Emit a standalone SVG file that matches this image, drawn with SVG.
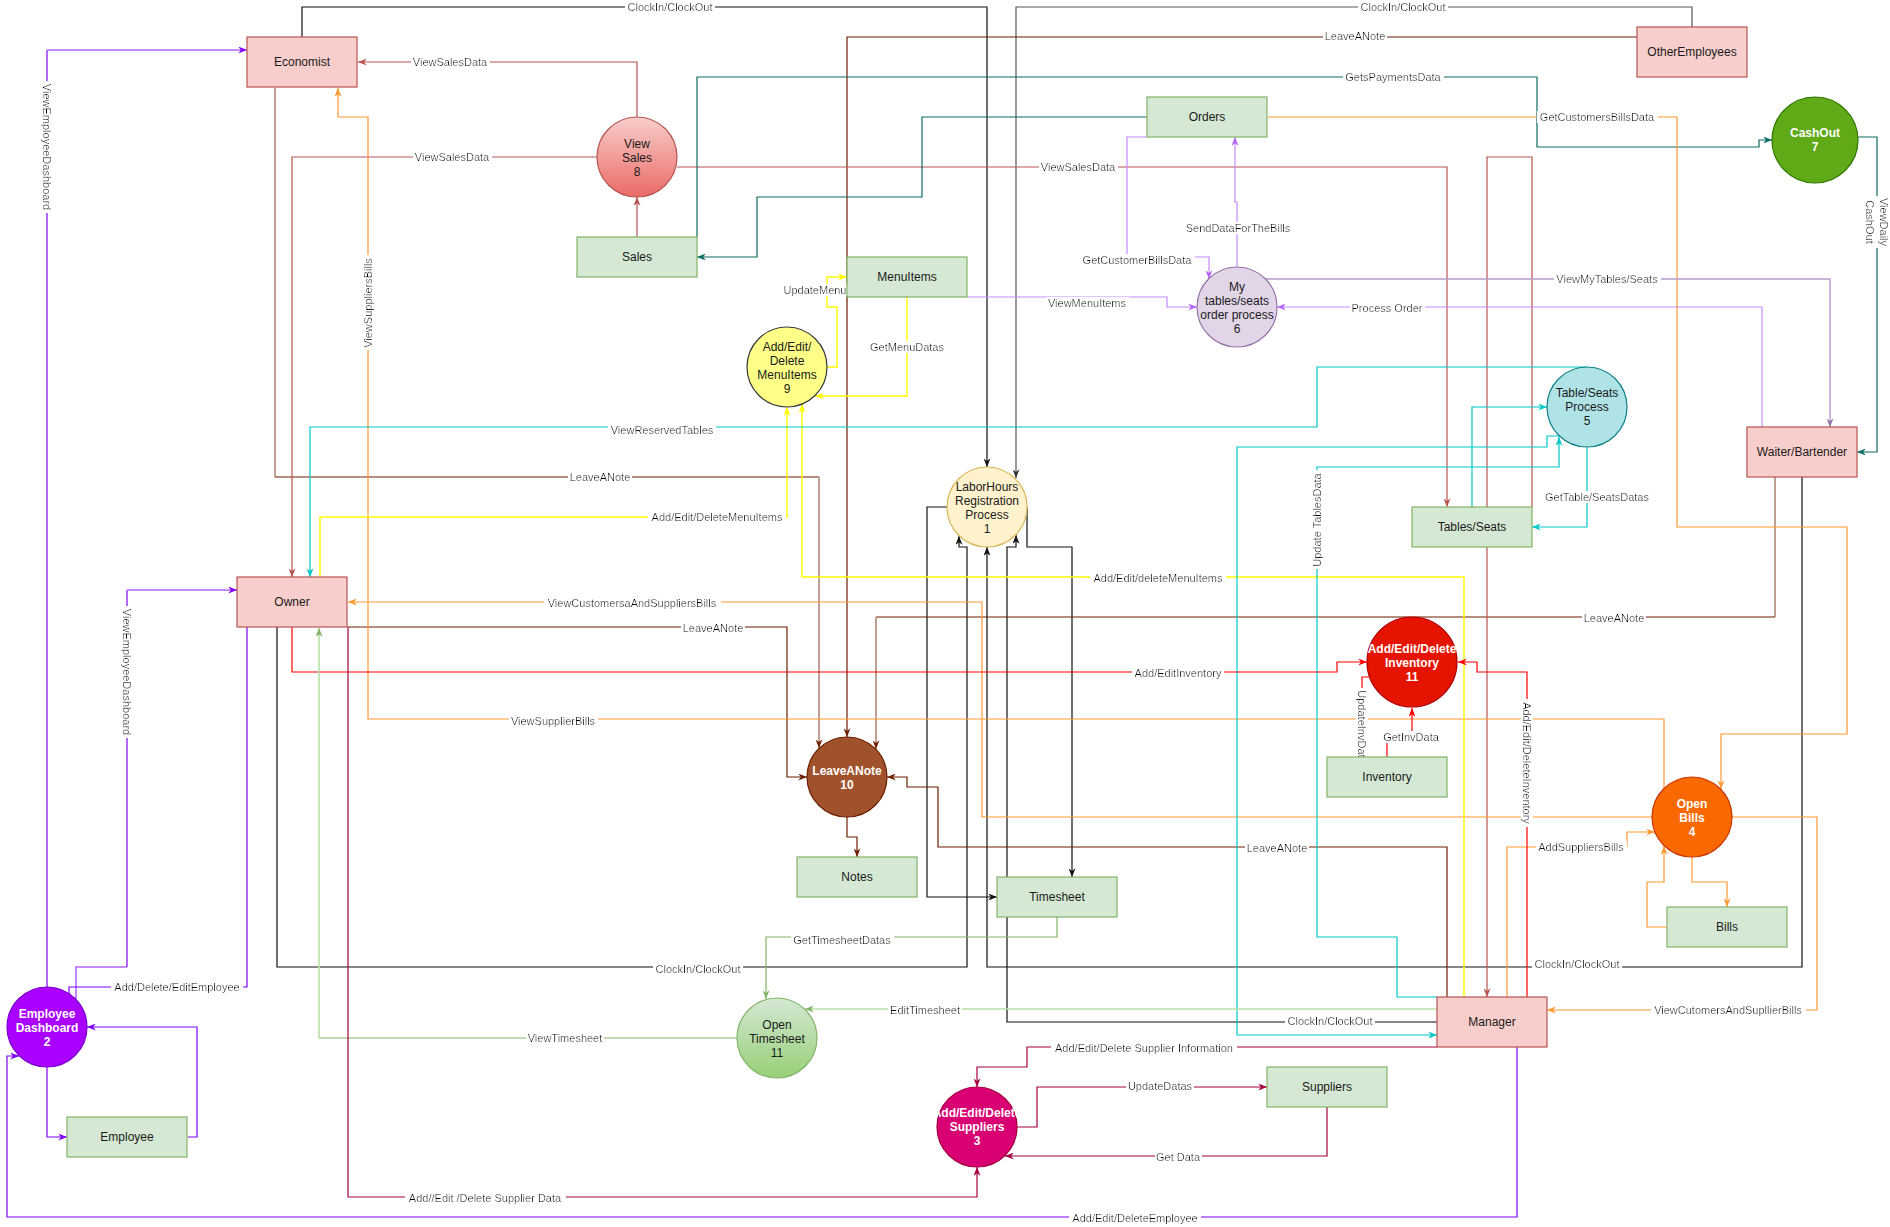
<svg xmlns="http://www.w3.org/2000/svg" width="1890" height="1227" viewBox="0 0 1890 1227">
<style>
.c{fill:none;stroke-width:1.2}
.k{stroke:#111}.g{stroke:#555}.br{stroke:#6D1F00}.bl{stroke:#b08a78;stroke-width:1.6}.rv{stroke:#b85450}.tl{stroke:#0e6b63}.or{stroke:#FF9933}.ye{stroke:#FFFF00;stroke-width:1.4}.pu{stroke:#7F00FF}.pl{stroke:#B266FF;stroke-width:1.6}.lp{stroke:#C58CFF}.lv{stroke:#B79BCB;stroke-width:1.4}.cy{stroke:#00C8C8}.re{stroke:#FF0000}.gr{stroke:#82b366}.gl{stroke:#B9E0A5;stroke-width:1.6}.cr{stroke:#A50040}
.lbl{font-family:"Liberation Sans",Arial,sans-serif;font-size:11px;fill:#000;text-anchor:middle;dominant-baseline:central;filter:url(#lb)}
.nt{font-family:"Liberation Sans",Arial,sans-serif;font-size:12px;fill:#1a1a1a;text-anchor:middle}
.wt{fill:#fff;font-weight:bold}
.ent{fill:#f8cecc;stroke:#b85450;stroke-width:1.2}
.ds{fill:#d5e8d4;stroke:#82b366;stroke-width:1.2}
</style>
<defs>
<filter id="lb" x="-0.02" y="0" width="1.04" height="1"><feFlood flood-color="#ffffff" result="f"/><feMerge><feMergeNode in="f"/><feMergeNode in="SourceGraphic"/></feMerge></filter>
<linearGradient id="gRed" x1="0" y1="0" x2="0" y2="1"><stop offset="0" stop-color="#f8cecc"/><stop offset="1" stop-color="#ea6b66"/></linearGradient>
<linearGradient id="gGreen" x1="0" y1="0" x2="0" y2="1"><stop offset="0" stop-color="#d5e8d4"/><stop offset="1" stop-color="#97d077"/></linearGradient>
<marker id="a-k" viewBox="0 0 10 8" refX="10" refY="4" markerWidth="9" markerHeight="7" markerUnits="userSpaceOnUse" orient="auto"><path d="M0,0L10,4L0,8L3,4z" fill="#111"/></marker>
<marker id="a-g" viewBox="0 0 10 8" refX="10" refY="4" markerWidth="9" markerHeight="7" markerUnits="userSpaceOnUse" orient="auto"><path d="M0,0L10,4L0,8L3,4z" fill="#333"/></marker>
<marker id="a-br" viewBox="0 0 10 8" refX="10" refY="4" markerWidth="9" markerHeight="7" markerUnits="userSpaceOnUse" orient="auto"><path d="M0,0L10,4L0,8L3,4z" fill="#6D1F00"/></marker>
<marker id="a-rv" viewBox="0 0 10 8" refX="10" refY="4" markerWidth="9" markerHeight="7" markerUnits="userSpaceOnUse" orient="auto"><path d="M0,0L10,4L0,8L3,4z" fill="#b85450"/></marker>
<marker id="a-tl" viewBox="0 0 10 8" refX="10" refY="4" markerWidth="9" markerHeight="7" markerUnits="userSpaceOnUse" orient="auto"><path d="M0,0L10,4L0,8L3,4z" fill="#0e6b63"/></marker>
<marker id="a-or" viewBox="0 0 10 8" refX="10" refY="4" markerWidth="9" markerHeight="7" markerUnits="userSpaceOnUse" orient="auto"><path d="M0,0L10,4L0,8L3,4z" fill="#FF9933"/></marker>
<marker id="a-ye" viewBox="0 0 10 8" refX="10" refY="4" markerWidth="9" markerHeight="7" markerUnits="userSpaceOnUse" orient="auto"><path d="M0,0L10,4L0,8L3,4z" fill="#FFFF00"/></marker>
<marker id="a-pu" viewBox="0 0 10 8" refX="10" refY="4" markerWidth="9" markerHeight="7" markerUnits="userSpaceOnUse" orient="auto"><path d="M0,0L10,4L0,8L3,4z" fill="#7F00FF"/></marker>
<marker id="a-lp" viewBox="0 0 10 8" refX="10" refY="4" markerWidth="9" markerHeight="7" markerUnits="userSpaceOnUse" orient="auto"><path d="M0,0L10,4L0,8L3,4z" fill="#B266FF"/></marker>
<marker id="a-lv" viewBox="0 0 10 8" refX="10" refY="4" markerWidth="9" markerHeight="7" markerUnits="userSpaceOnUse" orient="auto"><path d="M0,0L10,4L0,8L3,4z" fill="#9673a6"/></marker>
<marker id="a-cy" viewBox="0 0 10 8" refX="10" refY="4" markerWidth="9" markerHeight="7" markerUnits="userSpaceOnUse" orient="auto"><path d="M0,0L10,4L0,8L3,4z" fill="#00C8C8"/></marker>
<marker id="a-re" viewBox="0 0 10 8" refX="10" refY="4" markerWidth="9" markerHeight="7" markerUnits="userSpaceOnUse" orient="auto"><path d="M0,0L10,4L0,8L3,4z" fill="#FF0000"/></marker>
<marker id="a-gr" viewBox="0 0 10 8" refX="10" refY="4" markerWidth="9" markerHeight="7" markerUnits="userSpaceOnUse" orient="auto"><path d="M0,0L10,4L0,8L3,4z" fill="#82b366"/></marker>
<marker id="a-cr" viewBox="0 0 10 8" refX="10" refY="4" markerWidth="9" markerHeight="7" markerUnits="userSpaceOnUse" orient="auto"><path d="M0,0L10,4L0,8L3,4z" fill="#A50040"/></marker>
</defs>
<rect width="1890" height="1227" fill="#ffffff"/>
<g id="connectors">
<path class="c k" d="M302,37V7H987V467" marker-end="url(#a-k)"/>
<path class="c g" d="M1692,27V7H1016V478" marker-end="url(#a-g)"/>
<path class="c k" d="M277,627V967H967V547H959V536" marker-end="url(#a-k)"/>
<path class="c k" d="M1802,477V967H987V547" marker-end="url(#a-k)"/>
<path class="c k" d="M1437,1022H1007V547H1016V535" marker-end="url(#a-k)"/>
<path class="c k" d="M947,507H927V897H997" marker-end="url(#a-k)"/>
<path class="c k" d="M1027,507V547H1072V877" marker-end="url(#a-k)"/>
<path class="c br" d="M1637,37H847V737" marker-end="url(#a-br)"/>
<path class="c bl" d="M275,88V477"/>
<path class="c br" d="M275,477H819"/>
<path class="c bl" d="M819,477V748" marker-end="url(#a-br)"/>
<path class="c br" d="M348,627H787V777H807" marker-end="url(#a-br)"/>
<path class="c bl" d="M1775,477V617"/>
<path class="c br" d="M1775,617H876"/>
<path class="c bl" d="M876,617V749" marker-end="url(#a-br)"/>
<path class="c br" d="M1447,997V847H938V787H907V777H887" marker-end="url(#a-br)"/>
<path class="c br" d="M847,817V837H857V857" marker-end="url(#a-br)"/>
<path class="c rv" d="M637,237V197" marker-end="url(#a-rv)"/>
<path class="c rv" d="M637,117V62H358" marker-end="url(#a-rv)"/>
<path class="c rv" d="M597,157H292V577" marker-end="url(#a-rv)"/>
<path class="c rv" d="M677,167H1447V507" marker-end="url(#a-rv)"/>
<path class="c rv" d="M1532,507V157H1487V997" marker-end="url(#a-rv)"/>
<path class="c tl" d="M697,237V77H1537V147H1759V140H1772" marker-end="url(#a-tl)"/>
<path class="c tl" d="M1147,117H922V197H757V257H697" marker-end="url(#a-tl)"/>
<path class="c tl" d="M1857,137H1877V452H1857" marker-end="url(#a-tl)"/>
<path class="c or" d="M1664,788V719H368V117H338V88" marker-end="url(#a-or)"/>
<path class="c or" d="M1652,817H982V602H348" marker-end="url(#a-or)"/>
<path class="c or" d="M1268,117H1677V527H1847V734H1721V789" marker-end="url(#a-or)"/>
<path class="c or" d="M1692,857V882H1727V907" marker-end="url(#a-or)"/>
<path class="c or" d="M1667,927H1647V882H1664V846" marker-end="url(#a-or)"/>
<path class="c or" d="M1507,997V847H1627V832H1655" marker-end="url(#a-or)"/>
<path class="c or" d="M1732,817H1817V1010H1547" marker-end="url(#a-or)"/>
<path class="c ye" d="M320,577V517H787V407" marker-end="url(#a-ye)"/>
<path class="c ye" d="M1464,997V577H802V404" marker-end="url(#a-ye)"/>
<path class="c ye" d="M827,367H837V307H827V277H847" marker-end="url(#a-ye)"/>
<path class="c ye" d="M907,297V396H815" marker-end="url(#a-ye)"/>
<path class="c pu" d="M47,987V50"/>
<path class="c pl" d="M47,50H247" marker-end="url(#a-pu)"/>
<path class="c pl" d="M76,999V967H127"/>
<path class="c pu" d="M127,967V590"/>
<path class="c pl" d="M127,590H237" marker-end="url(#a-pu)"/>
<path class="c pu" d="M247,627V987H69V994"/>
<path class="c pu" d="M47,1067V1137H67" marker-end="url(#a-pu)"/>
<path class="c pu" d="M188,1137H197V1027H87" marker-end="url(#a-pu)"/>
<path class="c pu" d="M1517,1047V1217H7V1056H19" marker-end="url(#a-pu)"/>
<path class="c lp" d="M967,297H1167V307H1197" marker-end="url(#a-lp)"/>
<path class="c lp" d="M1237,267V202H1235V137" marker-end="url(#a-lp)"/>
<path class="c lp" d="M1147,137H1127V257H1209V279" marker-end="url(#a-lp)"/>
<path class="c lp" d="M1762,427V307H1277" marker-end="url(#a-lp)"/>
<path class="c lv" d="M1265,279H1830V427" marker-end="url(#a-lv)"/>
<path class="c cy" d="M1587,367H1317V427H310V577" marker-end="url(#a-cy)"/>
<path class="c cy" d="M1472,507V407H1547" marker-end="url(#a-cy)"/>
<path class="c cy" d="M1587,447V527H1532" marker-end="url(#a-cy)"/>
<path class="c cy" d="M1437,997H1397V937H1317V467H1559V437" marker-end="url(#a-cy)"/>
<path class="c cy" d="M1559,436H1547V447H1237V1035H1437" marker-end="url(#a-cy)"/>
<path class="c re" d="M292,627V672H1337V662H1367" marker-end="url(#a-re)"/>
<path class="c re" d="M1527,997V672H1477V662H1458" marker-end="url(#a-re)"/>
<path class="c re" d="M1370,677H1362V757"/>
<path class="c re" d="M1387,757V737H1412V708" marker-end="url(#a-re)"/>
<path class="c gr" d="M737,1038H319"/>
<path class="c gl" d="M319,1038V628" marker-end="url(#a-gr)"/>
<path class="c gr" d="M1057,917V937H766V999" marker-end="url(#a-gr)"/>
<path class="c gl" d="M1437,1009H805" marker-end="url(#a-gr)"/>
<path class="c cr" d="M348,627V1197H977V1167" marker-end="url(#a-cr)"/>
<path class="c cr" d="M1437,1047H1027V1067H977V1087" marker-end="url(#a-cr)"/>
<path class="c cr" d="M1017,1127H1037V1087H1267" marker-end="url(#a-cr)"/>
<path class="c cr" d="M1327,1107V1156H1005" marker-end="url(#a-cr)"/>
<g id="connector-labels">
<text class="lbl" x="670" y="7">ClockIn/ClockOut</text>
<text class="lbl" x="1403" y="7">ClockIn/ClockOut</text>
<text class="lbl" x="1355" y="36">LeaveANote</text>
<text class="lbl" x="1393" y="77">GetsPaymentsData</text>
<text class="lbl" x="1597" y="117">GetCustomersBillsData</text>
<text class="lbl" x="450" y="62">ViewSalesData</text>
<text class="lbl" x="452" y="157">ViewSalesData</text>
<text class="lbl" x="1078" y="167">ViewSalesData</text>
<text class="lbl" x="1238" y="228">SendDataForTheBills</text>
<text class="lbl" x="1137" y="260">GetCustomerBillsData</text>
<text class="lbl" x="815" y="290">UpdateMenu</text>
<text class="lbl" x="1087" y="303">ViewMenuItems</text>
<text class="lbl" x="1607" y="279">ViewMyTables/Seats</text>
<text class="lbl" x="1387" y="308">Process Order</text>
<text class="lbl" x="907" y="347">GetMenuDatas</text>
<text class="lbl" x="662" y="430">ViewReservedTables</text>
<text class="lbl" x="600" y="477">LeaveANote</text>
<text class="lbl" x="1597" y="497">GetTable/SeatsDatas</text>
<text class="lbl" x="717" y="517">Add/Edit/DeleteMenuItems</text>
<text class="lbl" transform="translate(1317,520) rotate(-90)" x="0" y="0">Update TablesData</text>
<text class="lbl" x="1158" y="578">Add/Edit/deleteMenuItems</text>
<text class="lbl" x="632" y="603">ViewCustomersaAndSuppliersBills</text>
<text class="lbl" x="1614" y="618">LeaveANote</text>
<text class="lbl" x="713" y="628">LeaveANote</text>
<text class="lbl" x="1178" y="673">Add/EditInventory</text>
<text class="lbl" transform="translate(1362,727) rotate(90)" x="0" y="0">UpdateInvData</text>
<text class="lbl" x="1411" y="737">GetInvData</text>
<text class="lbl" x="553" y="721">ViewSupplierBills</text>
<text class="lbl" transform="translate(1527,763) rotate(90)" x="0" y="0">Add/Edit/DeleteInventory</text>
<text class="lbl" x="1581" y="847">AddSuppliersBills</text>
<text class="lbl" x="1277" y="848">LeaveANote</text>
<text class="lbl" x="842" y="940">GetTimesheetDatas</text>
<text class="lbl" x="698" y="969">ClockIn/ClockOut</text>
<text class="lbl" x="1577" y="964">ClockIn/ClockOut</text>
<text class="lbl" x="1728" y="1010">ViewCutomersAndSupllierBills</text>
<text class="lbl" x="925" y="1010">EditTimesheet</text>
<text class="lbl" x="1330" y="1021">ClockIn/ClockOut</text>
<text class="lbl" x="177" y="987">Add/Delete/EditEmployee</text>
<text class="lbl" x="565" y="1038">ViewTimesheet</text>
<text class="lbl" x="1144" y="1048">Add/Edit/Delete Supplier Information</text>
<text class="lbl" x="1160" y="1086">UpdateDatas</text>
<text class="lbl" x="1178" y="1157">Get Data</text>
<text class="lbl" x="485" y="1198">Add//Edit /Delete Supplier Data</text>
<text class="lbl" x="1135" y="1218">Add/Edit/DeleteEmployee</text>
<text class="lbl" transform="translate(47,147) rotate(90)" x="0" y="0">ViewEmployeeDashboard</text>
<text class="lbl" transform="translate(127,672) rotate(90)" x="0" y="0">ViewEmployeeDashboard</text>
<text class="lbl" transform="translate(368,303) rotate(-90)" x="0" y="0">ViewSuppliersBills</text>
<text class="lbl" transform="translate(1877,222) rotate(90)"><tspan x="0" y="-7">ViewDaily</tspan><tspan x="0" y="7">CashOut</tspan></text>
</g>
</g>
<g id="economist"><rect class="ent" x="247" y="37" width="110" height="50"/><text class="nt" x="302" y="66">Economist</text></g>
<g id="owner"><rect class="ent" x="237" y="577" width="110" height="50"/><text class="nt" x="292" y="606">Owner</text></g>
<g id="other-employees"><rect class="ent" x="1637" y="27" width="110" height="50"/><text class="nt" x="1692" y="56">OtherEmployees</text></g>
<g id="waiter-bartender"><rect class="ent" x="1747" y="427" width="110" height="50"/><text class="nt" x="1802" y="456">Waiter/Bartender</text></g>
<g id="manager"><rect class="ent" x="1437" y="997" width="110" height="50"/><text class="nt" x="1492" y="1026">Manager</text></g>
<g id="orders"><rect class="ds" x="1147" y="97" width="120" height="40"/><text class="nt" x="1207" y="121">Orders</text></g>
<g id="sales"><rect class="ds" x="577" y="237" width="120" height="40"/><text class="nt" x="637" y="261">Sales</text></g>
<g id="menuitems"><rect class="ds" x="847" y="257" width="120" height="40"/><text class="nt" x="907" y="281">MenuItems</text></g>
<g id="tables-seats"><rect class="ds" x="1412" y="507" width="120" height="40"/><text class="nt" x="1472" y="531">Tables/Seats</text></g>
<g id="inventory"><rect class="ds" x="1327" y="757" width="120" height="40"/><text class="nt" x="1387" y="781">Inventory</text></g>
<g id="notes"><rect class="ds" x="797" y="857" width="120" height="40"/><text class="nt" x="857" y="881">Notes</text></g>
<g id="timesheet"><rect class="ds" x="997" y="877" width="120" height="40"/><text class="nt" x="1057" y="901">Timesheet</text></g>
<g id="bills"><rect class="ds" x="1667" y="907" width="120" height="40"/><text class="nt" x="1727" y="931">Bills</text></g>
<g id="suppliers"><rect class="ds" x="1267" y="1067" width="120" height="40"/><text class="nt" x="1327" y="1091">Suppliers</text></g>
<g id="employee"><rect class="ds" x="67" y="1117" width="120" height="40"/><text class="nt" x="127" y="1141">Employee</text></g>
<g id="p-view-sales"><circle cx="637" cy="157" r="40" fill="url(#gRed)" stroke="#b85450" stroke-width="1.2"/><text class="nt"><tspan x="637" y="148">View</tspan><tspan x="637" y="162">Sales</tspan><tspan x="637" y="176">8</tspan></text></g>
<g id="p-menuitems"><circle cx="787" cy="367" r="40" fill="#ffff88" stroke="#36393d" stroke-width="1.2"/><text class="nt"><tspan x="787" y="351">Add/Edit/</tspan><tspan x="787" y="365">Delete</tspan><tspan x="787" y="379">MenuItems</tspan><tspan x="787" y="393">9</tspan></text></g>
<g id="p-my-tables"><circle cx="1237" cy="307" r="40" fill="#e1d5e7" stroke="#9673a6" stroke-width="1.2"/><text class="nt"><tspan x="1237" y="291">My</tspan><tspan x="1237" y="305">tables/seats</tspan><tspan x="1237" y="319">order process</tspan><tspan x="1237" y="333">6</tspan></text></g>
<g id="p-cashout"><circle cx="1815" cy="140" r="43" fill="#60a917" stroke="#2D7600" stroke-width="1.2"/><text class="nt wt"><tspan x="1815" y="137">CashOut</tspan><tspan x="1815" y="151">7</tspan></text></g>
<g id="p-table-seats"><circle cx="1587" cy="407" r="40" fill="#b0e3e6" stroke="#0e8088" stroke-width="1.2"/><text class="nt"><tspan x="1587" y="397">Table/Seats</tspan><tspan x="1587" y="411">Process</tspan><tspan x="1587" y="425">5</tspan></text></g>
<g id="p-laborhours"><circle cx="987" cy="507" r="40" fill="#fff2cc" stroke="#d6b656" stroke-width="1.2"/><text class="nt"><tspan x="987" y="491">LaborHours</tspan><tspan x="987" y="505">Registration</tspan><tspan x="987" y="519">Process</tspan><tspan x="987" y="533">1</tspan></text></g>
<g id="p-inventory"><circle cx="1412" cy="662" r="45" fill="#e51400" stroke="#B20000" stroke-width="1.2"/><text class="nt wt"><tspan x="1412" y="653">Add/Edit/Delete</tspan><tspan x="1412" y="667">Inventory</tspan><tspan x="1412" y="681">11</tspan></text></g>
<g id="p-leaveanote"><circle cx="847" cy="777" r="40" fill="#a0522d" stroke="#6D1F00" stroke-width="1.2"/><text class="nt wt"><tspan x="847" y="775">LeaveANote</tspan><tspan x="847" y="789">10</tspan></text></g>
<g id="p-open-bills"><circle cx="1692" cy="817" r="40" fill="#fa6800" stroke="#C73500" stroke-width="1.2"/><text class="nt wt"><tspan x="1692" y="808">Open</tspan><tspan x="1692" y="822">Bills</tspan><tspan x="1692" y="836">4</tspan></text></g>
<g id="p-open-timesheet"><circle cx="777" cy="1038" r="40" fill="url(#gGreen)" stroke="#82b366" stroke-width="1.2"/><text class="nt"><tspan x="777" y="1029">Open</tspan><tspan x="777" y="1043">Timesheet</tspan><tspan x="777" y="1057">11</tspan></text></g>
<g id="p-employee-dashboard"><circle cx="47" cy="1027" r="40" fill="#aa00ff" stroke="#7700CC" stroke-width="1.2"/><text class="nt wt"><tspan x="47" y="1018">Employee</tspan><tspan x="47" y="1032">Dashboard</tspan><tspan x="47" y="1046">2</tspan></text></g>
<g id="p-suppliers"><circle cx="977" cy="1127" r="40" fill="#d80073" stroke="#A50040" stroke-width="1.2"/><text class="nt wt"><tspan x="977" y="1117">Add/Edit/Delete</tspan><tspan x="977" y="1131">Suppliers</tspan><tspan x="977" y="1145">3</tspan></text></g>
</svg>
